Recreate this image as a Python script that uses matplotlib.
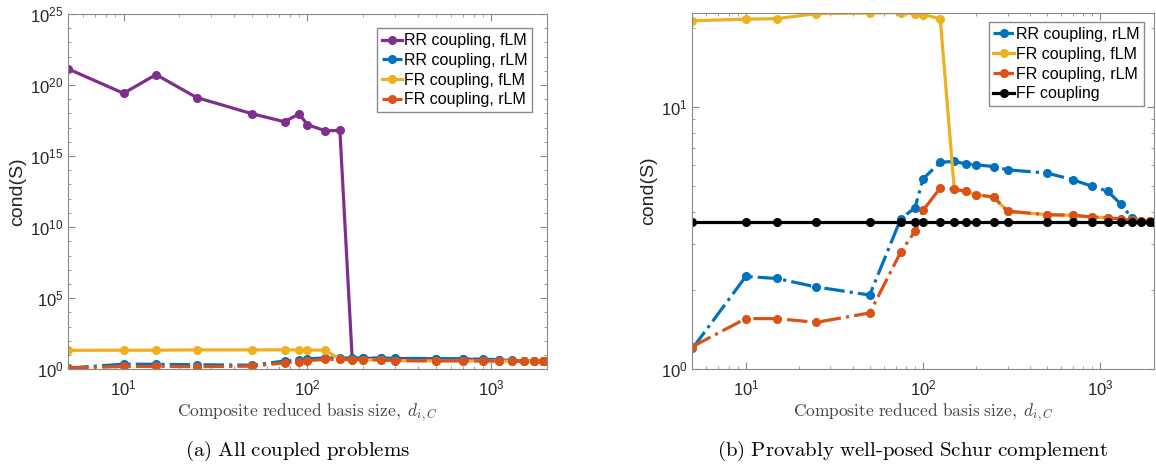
import math
import matplotlib.pyplot as plt
from matplotlib.ticker import LogLocator, FixedLocator, NullFormatter, FuncFormatter

plt.rcParams['font.family'] = ['Liberation Sans', 'DejaVu Sans']
plt.rcParams['mathtext.fontset'] = 'cm'

# composite reduced basis size d_{i,C}
basis_size = [5, 10, 15, 25, 50, 75, 90, 100, 125, 150, 175, 200, 250, 300,
              500, 700, 900, 1100, 1300, 1500, 1700, 1900, 2000]

# cond(S) for each coupling
rr_flm = [1.35e21, 2.6e19, 5.4e20, 1.3e19, 9.5e17, 2.6e17, 9.3e17, 1.6e17, 6.0e16, 6.3e16,
          5.6, 5.9, 5.8, 5.6, 5.4, 5.1, 4.8, 4.6, 4.1, 3.75, 3.68, 3.67, 3.66]
rr_rlm = [1.20, 2.26, 2.22, 2.06, 1.92, 3.76, 4.13, 5.33, 6.17, 6.21, 6.08, 6.03,
          5.94, 5.77, 5.61, 5.29, 4.99, 4.78, 4.28, 3.79, 3.67, 3.66, 3.65]
fr_flm = [21.4, 21.7, 21.8, 22.8, 22.9, 23.0, 22.7, 22.6, 21.8, 4.87, 4.77, 4.64,
          4.54, 4.01, 3.89, 3.87, 3.81, 3.78, 3.75, 3.70, 3.68, 3.67, 3.66]
fr_rlm = [1.22, 1.56, 1.56, 1.51, 1.64, 2.81, 3.36, 4.04, 4.92, 4.87, 4.77, 4.64,
          4.54, 4.01, 3.89, 3.87, 3.81, 3.78, 3.75, 3.70, 3.68, 3.67, 3.66]
ff = [3.65, 3.65, 3.65, 3.65, 3.65, 3.65, 3.65, 3.65, 3.65, 3.65, 3.65, 3.65,
      3.65, 3.65, 3.65, 3.65, 3.65, 3.65, 3.65, 3.65, 3.65, 3.65, 3.65]

blue = '#0072BD'
orange = '#D95319'
yellow = '#EDB120'
purple = '#7E2F8E'
axis_gray = '#8a8a8a'
text_dark = '#262626'

xlabel = r'$\mathrm{Composite\ reduced\ basis\ size,}\ d_{i,C}$'
line_kw = dict(lw=2.3, marker='o', ms=5.5)
legend_kw = dict(loc='upper right', fontsize=11.5, handlelength=1.3, handletextpad=0.1,
                 borderpad=0.3, labelspacing=0.3, fancybox=False, framealpha=1,
                 edgecolor=axis_gray)


def pow_label(v, pos):
    return r'$\mathregular{10^{%d}}$' % int(round(math.log10(v)))


def style_axes(ax):
    ax.set_xscale('log')
    ax.set_yscale('log')
    ax.set_xlim(5, 2000)
    for s in ax.spines.values():
        s.set_color(axis_gray)
        s.set_linewidth(0.8)
    ax.tick_params(which='both', direction='in', top=True, right=True,
                   color=axis_gray, labelcolor=text_dark, labelsize=12)
    ax.tick_params(which='major', length=5)
    ax.tick_params(which='minor', length=2.5)
    ax.tick_params(axis='x', which='major', pad=7)
    ax.xaxis.set_major_locator(FixedLocator([10, 100, 1000]))
    ax.xaxis.set_minor_locator(LogLocator(base=10, subs=range(2, 10), numticks=20))
    ax.xaxis.set_major_formatter(FuncFormatter(pow_label))
    ax.xaxis.set_minor_formatter(NullFormatter())
    ax.set_xlabel(xlabel, fontsize=12.5, color='#444444', labelpad=2)
    ax.set_ylabel('cond(S)', fontsize=14, color=text_dark, labelpad=3)


fig = plt.figure(figsize=(11.56, 4.65), dpi=100)

# (a) all coupled problems
ax1 = fig.add_axes([0.059, 0.206, 0.414, 0.764])
ax1.plot(basis_size, rr_flm, color=purple, ls='-', label='RR coupling, fLM', **line_kw)
ax1.plot(basis_size, rr_rlm, color=blue, ls='-.', label='RR coupling, rLM', **line_kw)
ax1.plot(basis_size, fr_flm, color=yellow, ls='-', label='FR coupling, fLM', **line_kw)
ax1.plot(basis_size, fr_rlm, color=orange, ls='-.', label='FR coupling, rLM', **line_kw)
style_axes(ax1)
ax1.set_ylim(1, 1e25)
ax1.yaxis.set_major_locator(FixedLocator([1, 1e5, 1e10, 1e15, 1e20, 1e25]))
ax1.yaxis.set_minor_locator(FixedLocator([10.0 ** k for k in range(26)]))
ax1.yaxis.set_major_formatter(FuncFormatter(pow_label))
ax1.yaxis.set_minor_formatter(NullFormatter())
ax1.legend(borderaxespad=0.9, **legend_kw)

# (b) provably well-posed Schur complement
ax2 = fig.add_axes([0.599, 0.206, 0.399, 0.767])
ax2.plot(basis_size, rr_rlm, color=blue, ls='-.', label='RR coupling, rLM', **line_kw)
ax2.plot(basis_size, fr_flm, color=yellow, ls='-', label='FR coupling, fLM', **line_kw)
ax2.plot(basis_size, fr_rlm, color=orange, ls='-.', label='FR coupling, rLM', **line_kw)
ax2.plot(basis_size, ff, color='black', ls='-', label='FF coupling', **line_kw)
style_axes(ax2)
ax2.set_ylim(1, 23.0)
ax2.yaxis.set_major_locator(FixedLocator([1, 10]))
ax2.yaxis.set_minor_locator(LogLocator(base=10, subs=range(2, 10), numticks=10))
ax2.yaxis.set_major_formatter(FuncFormatter(pow_label))
ax2.yaxis.set_minor_formatter(NullFormatter())
ax2.legend(borderaxespad=0.6, **legend_kw)

fig.text(0.257, 0.02, r'$\mathrm{(a)\ All\ coupled\ problems}$', ha='center', fontsize=15)
fig.text(0.789, 0.02, r'$\mathrm{(b)\ Provably\ well\text{-}posed\ Schur\ complement}$',
         ha='center', fontsize=15)

fig.savefig('out.png', dpi=100)
